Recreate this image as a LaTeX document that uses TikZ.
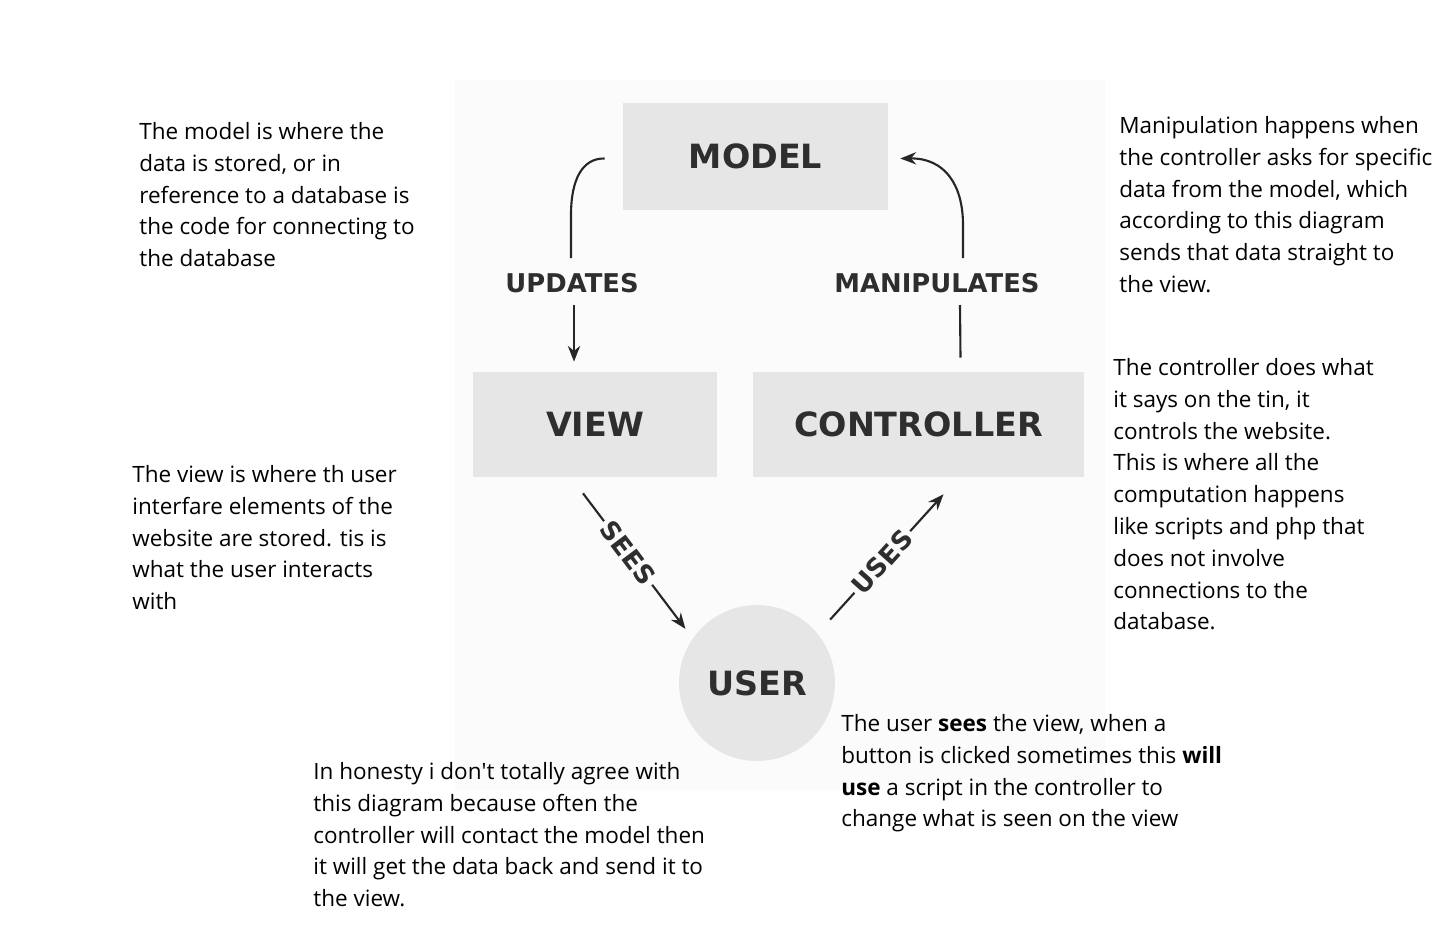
\documentclass[tikz,border=0pt]{standalone}
\usepackage{fontspec}
\setmainfont{Open Sans}
\newfontfamily\boxfont{DejaVu Sans}
\usetikzlibrary{calc,arrows.meta}
\definecolor{partgray}{HTML}{E6E6E6}
\definecolor{inkgray}{HTML}{2E2E2E}
\definecolor{backgray}{HTML}{FBFBFB}
\begin{document}
\begin{tikzpicture}[x=0.02cm,y=-0.02cm,
  part/.style={fill=partgray,text=inkgray,inner sep=0pt,font=\boxfont\bfseries\fontsize{19}{22}\selectfont},
  tag/.style={fill=backgray,text=inkgray,inner sep=2pt,font=\boxfont\bfseries\fontsize{14.7}{17}\selectfont},
  flow/.style={line width=1.2pt,color=black!85},
  tip/.style={-{Stealth[length=9pt,width=7pt]}},
  note/.style={anchor=north west,align=left,inner sep=0pt,font=\fontsize{12.8}{18.1}\selectfont}]
  \clip (0,0) rectangle (1454,950);
  \fill[white] (0,0) rectangle (1454,950);
  \fill[backgray] (455,80) rectangle (1105,790);

  \node[part,minimum width=5.3cm,minimum height=2.14cm] (model) at (755.5,156.5) {MODEL};
  \node[part,minimum width=4.88cm,minimum height=2.1cm] (view) at (595,424.5) {VIEW};
  \node[part,minimum width=6.62cm,minimum height=2.1cm] (controller) at (918.5,424.5) {CONTROLLER};
  \node[part,circle,minimum size=3.12cm] (user) at (757,683) {USER};

  \node[tag] (updates) at (572,283) {UPDATES};
  \node[tag] (manip) at (937,283) {MANIPULATES};

  \draw[flow] ($(model.west)+(-18,2)$) .. controls (582,158) and (571,180) .. (571,215) -- (571,258);
  \draw[flow,tip] (574,305) -- ($(view.north)+(-21,-10)$);
  \draw[flow] ($(controller.north)+(42,-14)$) -- (960,305);
  \draw[flow,tip] (963,258) -- (963,225) .. controls (963,185) and (945,158) .. ($(model.east)+(12,2)$);

  \draw[flow,tip] ($(view.south)+(-12,16)$) -- ($(user.143)+(-9,-7)$)
    node[tag,pos=0.44,rotate=-53] (sees) {SEES};
  \draw[flow,tip] ($(user.41)+(14,-12)$) -- ($(controller.south)+(25,17)$)
    node[tag,pos=0.46,rotate=48] (uses) {USES};

  \node[note] (modelnote) at (139,122) {The model is where the\\data is stored, or in\\reference to a database is\\the code for connecting to\\the database};
  \node[note] (manipnote) at (1119,116) {Manipulation happens when\\the controller asks for specific\\data from the model, which\\according to this diagram\\sends that data straight to\\the view.};
  \node[note] (viewnote) at (132,465) {The view is where th user\\interfare elements of the\\website are stored. tis is\\what the user interacts\\with};
  \node[note] (controlnote) at (1113,358) {The controller does what\\it says on the tin, it\\controls the website.\\This is where all the\\computation happens\\like scripts and php that\\does not involve\\connections to the\\database.};
  \node[note] (usernote) at (841,714) {The user \textbf{sees} the view, when a\\button is clicked sometimes this \textbf{will}\\\textbf{use} a script in the controller to\\change what is seen on the view};
  \node[note] (opinion) at (313,762) {In honesty i don\textquotesingle t totally agree with\\this diagram because often the\\controller will contact the model then\\it will get the data back and send it to\\the view.};
\end{tikzpicture}
\end{document}
